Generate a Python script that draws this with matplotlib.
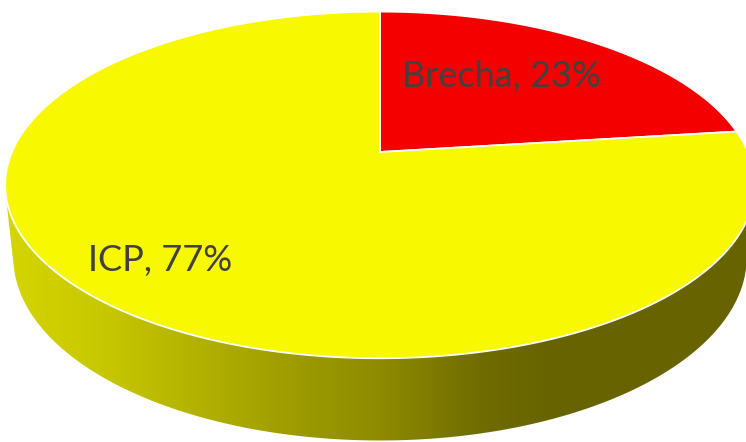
import numpy as np
import matplotlib
matplotlib.use('Agg')
import matplotlib.pyplot as plt
from matplotlib.patches import Polygon

labels = ['Brecha', 'ICP']
values = [23, 77]
colors = ['#f40000', '#f8f800']

# perspective camera for the 3D pie (pixel space)
cx, cy = 380, 152
tilt = np.radians(27)
dist = 4.69
scale = 1726
depth_h = 0.222


def project(X, Y, Z):
    d = dist + Y * np.cos(tilt) - Z * np.sin(tilt)
    sx = cx + scale * X / d
    sy = cy - scale * (Y * np.sin(tilt) + Z * np.cos(tilt)) / d
    return np.column_stack([sx, sy])


def rim(a0, a1, z=0.0, n=200):
    a = np.linspace(a0, a1, n)
    return project(np.cos(a), np.sin(a), np.full_like(a, z))


def convex_hull(pts):
    pts = sorted(map(tuple, pts))
    def cross(o, a, b):
        return (a[0] - o[0]) * (b[1] - o[1]) - (a[1] - o[1]) * (b[0] - o[0])
    lower, upper = [], []
    for p in pts:
        while len(lower) >= 2 and cross(lower[-2], lower[-1], p) <= 0:
            lower.pop()
        lower.append(p)
    for p in reversed(pts):
        while len(upper) >= 2 and cross(upper[-2], upper[-1], p) <= 0:
            upper.pop()
        upper.append(p)
    return np.array(lower[:-1] + upper[:-1])


fig = plt.figure(figsize=(7.46, 4.42), dpi=100)
ax = fig.add_axes([0, 0, 1, 1])
ax.set_xlim(0, 746)
ax.set_ylim(442, 0)
ax.axis('off')

# side wall: gradient clipped to hull of top and bottom rims
full = 2 * np.pi
side_pts = np.vstack([rim(0, full, 0.0, 400), rim(0, full, -depth_h, 400)])
side = Polygon(convex_hull(side_pts), closed=True, facecolor='none', edgecolor='none')
ax.add_patch(side)
xs = np.arange(746)
stops_x = [0, 100, 300, 380, 480, 560, 746]
stops_c = np.array([[214, 214, 0], [200, 200, 0], [156, 154, 0], [142, 139, 0],
                    [112, 108, 0], [102, 99, 0], [102, 99, 0]]) / 255
grad = np.stack([np.interp(xs, stops_x, stops_c[:, k]) for k in range(3)], axis=-1)
im = ax.imshow(grad[None, :, :], extent=[0, 746, 442, 0], aspect='auto', zorder=1)
im.set_clip_path(side)

# top face slices, clockwise from 12 o'clock
total = sum(values)
start = np.pi / 2
for lab, v, c in zip(labels, values, colors):
    end = start - 2 * np.pi * v / total
    pts = np.vstack([project(np.array([0.0]), np.array([0.0]), np.array([0.0])),
                     rim(start, end)])
    ax.add_patch(Polygon(pts, closed=True, facecolor=c, edgecolor='white',
                         linewidth=1.3, zorder=2))
    start = end

ax.text(502, 76, 'Brecha, 23%', fontsize=26, family='Lato', color='#404040',
        ha='center', va='center', zorder=3)
ax.text(160, 261, 'ICP, 77%', fontsize=26, family='Lato', color='#404040',
        ha='center', va='center', zorder=3)

fig.savefig('out.png', dpi=100)
